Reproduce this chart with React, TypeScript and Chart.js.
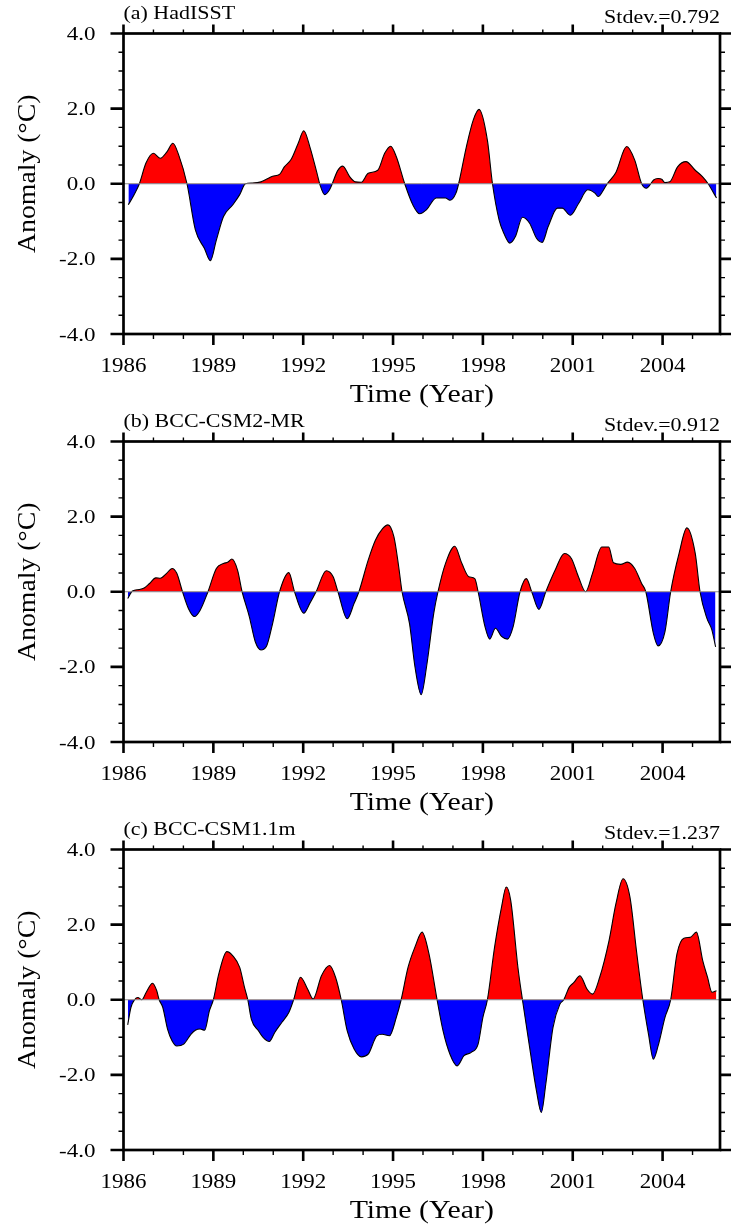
import React, { useEffect, useRef } from 'react';
import { Chart, registerables } from 'chart.js';

Chart.register(...registerables);

// ---------- data ----------
const X_MIN = 1986;
const X_MAX = 1986 + 239 / 12;
const yearTicks = [1986, 1987, 1988, 1989, 1990, 1991, 1992, 1993, 1994, 1995, 1996, 1997, 1998, 1999, 2000, 2001, 2002, 2003, 2004, 2005];
const majorYears = [1986, 1989, 1992, 1995, 1998, 2001, 2004];
const yMajor = [-4, -2, 0, 2, 4];
const yMajorLabels = ['-4.0', '-2.0', '0.0', '2.0', '4.0'];
const yMinor = [-3.5, -3, -2.5, -1.5, -1, -0.5, 0.5, 1, 1.5, 2.5, 3, 3.5];

const panelTitles = ['(a) HadISST', '(b) BCC-CSM2-MR', '(c) BCC-CSM1.1m'];
const panelStdev = ['Stdev.=0.792', 'Stdev.=0.912', 'Stdev.=1.237'];

const hadTime = [1986.16, 1986.35, 1986.53, 1986.75, 1987.0, 1987.23, 1987.45, 1987.65, 1987.85, 1988.12, 1988.4, 1988.7, 1988.9, 1989.1, 1989.34, 1989.65, 1989.88, 1990.07, 1990.3, 1990.59, 1990.82, 1990.98, 1991.21, 1991.37, 1991.6, 1991.83, 1992.02, 1992.22, 1992.46, 1992.55, 1992.72, 1992.88, 1992.97, 1993.15, 1993.32, 1993.55, 1993.74, 1993.94, 1994.17, 1994.49, 1994.72, 1994.92, 1995.11, 1995.39, 1995.66, 1995.89, 1996.12, 1996.44, 1996.75, 1996.9, 1997.1, 1997.19, 1997.45, 1997.68, 1997.87, 1998.15, 1998.32, 1998.54, 1998.7, 1998.9, 1999.09, 1999.32, 1999.56, 1999.79, 1999.98, 2000.18, 2000.49, 2000.65, 2000.92, 2001.2, 2001.5, 2001.74, 2001.85, 2002.0, 2002.15, 2002.44, 2002.8, 2003.07, 2003.3, 2003.46, 2003.56, 2003.7, 2003.85, 2003.97, 2004.08, 2004.24, 2004.5, 2004.78, 2005.09, 2005.33, 2005.52, 2005.8];
const hadValue = [-0.56, -0.3, 0, 0.55, 0.81, 0.68, 0.85, 1.08, 0.75, 0, -1.23, -1.72, -2.05, -1.5, -0.87, -0.56, -0.29, 0, 0.02, 0.05, 0.14, 0.2, 0.25, 0.45, 0.65, 1.07, 1.41, 0.99, 0.28, 0, -0.29, -0.16, 0, 0.35, 0.47, 0.19, 0.05, 0.04, 0.28, 0.36, 0.81, 1.0, 0.72, 0, -0.56, -0.8, -0.69, -0.38, -0.38, -0.44, -0.25, 0, 0.99, 1.7, 1.98, 1.16, 0, -0.96, -1.32, -1.58, -1.4, -0.89, -1.05, -1.45, -1.56, -1.14, -0.65, -0.65, -0.84, -0.52, -0.16, -0.25, -0.34, -0.2, 0, 0.3, 0.99, 0.63, 0, -0.12, -0.05, 0.1, 0.14, 0.12, 0.03, 0.05, 0.45, 0.59, 0.36, 0.19, 0, -0.38];

const csm2Time = [1986.14, 1986.3, 1986.53, 1986.69, 1986.87, 1987.08, 1987.23, 1987.44, 1987.62, 1987.78, 1987.97, 1988.17, 1988.37, 1988.56, 1988.82, 1989.1, 1989.34, 1989.49, 1989.62, 1989.81, 1989.96, 1990.2, 1990.4, 1990.59, 1990.77, 1990.98, 1991.21, 1991.52, 1991.71, 1992.02, 1992.22, 1992.43, 1992.77, 1993.0, 1993.16, 1993.47, 1993.7, 1993.86, 1994.17, 1994.41, 1994.65, 1994.83, 1995.03, 1995.19, 1995.3, 1995.55, 1995.73, 1995.94, 1996.12, 1996.36, 1996.5, 1996.75, 1997.06, 1997.3, 1997.53, 1997.73, 1997.84, 1998.07, 1998.23, 1998.42, 1998.62, 1998.82, 1999.01, 1999.24, 1999.45, 1999.63, 1999.87, 2000.1, 2000.41, 2000.72, 2000.96, 2001.19, 2001.43, 2001.66, 2001.97, 2002.2, 2002.36, 2002.6, 2002.83, 2003.07, 2003.3, 2003.44, 2003.69, 2003.85, 2004.08, 2004.27, 2004.55, 2004.81, 2005.09, 2005.25, 2005.48, 2005.64, 2005.77];
const csm2Value = [-0.18, 0.02, 0.06, 0.1, 0.22, 0.37, 0.36, 0.49, 0.62, 0.49, 0, -0.45, -0.66, -0.49, 0, 0.62, 0.75, 0.79, 0.87, 0.57, 0, -0.66, -1.33, -1.55, -1.46, -0.84, 0, 0.51, 0, -0.57, -0.31, 0, 0.56, 0.4, 0, -0.72, -0.31, 0, 0.84, 1.37, 1.68, 1.78, 1.46, 0.66, 0, -0.85, -1.99, -2.74, -1.99, -0.57, 0, 0.75, 1.21, 0.75, 0.4, 0.35, 0, -0.93, -1.26, -0.97, -1.19, -1.26, -0.93, 0, 0.35, 0, -0.47, 0, 0.57, 1.02, 0.88, 0.4, 0.0, 0.49, 1.19, 1.19, 0.77, 0.73, 0.79, 0.62, 0.22, 0, -1.1, -1.44, -1.06, 0, 1.02, 1.7, 1.02, 0, -0.71, -1.0, -1.47];

const csm1Time = [1986.14, 1986.25, 1986.37, 1986.48, 1986.61, 1986.76, 1986.97, 1987.11, 1987.19, 1987.31, 1987.47, 1987.62, 1987.78, 1988.01, 1988.25, 1988.4, 1988.56, 1988.71, 1988.87, 1989.0, 1989.18, 1989.45, 1989.65, 1989.88, 1990.04, 1990.15, 1990.27, 1990.51, 1990.66, 1990.87, 1991.05, 1991.29, 1991.52, 1991.68, 1991.91, 1992.15, 1992.33, 1992.61, 1992.88, 1993.08, 1993.27, 1993.47, 1993.7, 1993.94, 1994.17, 1994.46, 1994.64, 1994.88, 1995.11, 1995.27, 1995.5, 1995.73, 1995.97, 1996.2, 1996.47, 1996.67, 1996.9, 1997.14, 1997.37, 1997.61, 1997.84, 1998.0, 1998.15, 1998.39, 1998.62, 1998.78, 1998.93, 1999.17, 1999.32, 1999.56, 1999.79, 1999.95, 2000.1, 2000.34, 2000.57, 2000.7, 2000.88, 2001.04, 2001.24, 2001.48, 2001.66, 2001.9, 2002.21, 2002.44, 2002.68, 2002.91, 2003.14, 2003.34, 2003.53, 2003.69, 2003.85, 2004.08, 2004.27, 2004.48, 2004.71, 2004.92, 2005.13, 2005.34, 2005.5, 2005.65, 2005.8];
const csm1Value = [-0.67, -0.2, 0, 0.06, 0.0, 0.2, 0.44, 0.24, 0, -0.2, -0.78, -1.09, -1.23, -1.18, -0.92, -0.81, -0.78, -0.81, -0.29, 0, 0.68, 1.28, 1.17, 0.86, 0.33, 0, -0.52, -0.83, -1.0, -1.11, -0.87, -0.6, -0.34, 0, 0.6, 0.28, 0.02, 0.64, 0.91, 0.6, 0, -0.83, -1.31, -1.52, -1.45, -0.96, -0.92, -0.96, -0.47, 0, 0.86, 1.4, 1.8, 1.22, 0, -0.83, -1.45, -1.76, -1.49, -1.4, -1.18, -0.47, 0, 1.4, 2.46, 3.0, 2.64, 0.86, 0, -1.27, -2.43, -3.0, -2.25, -0.74, -0.12, 0, 0.33, 0.46, 0.64, 0.28, 0.15, 0.6, 1.57, 2.55, 3.22, 2.73, 1.22, 0, -0.92, -1.58, -1.23, -0.47, 0, 1.22, 1.64, 1.66, 1.8, 1.04, 0.6, 0.2, 0.24];

const panelTimes = [hadTime, csm2Time, csm1Time];
const panelValues = [hadValue, csm2Value, csm1Value];

// ---------- drawing helpers ----------
const FONT = '"Liberation Serif", "Times New Roman", serif';

function drawText(
  ctx: CanvasRenderingContext2D,
  s: string,
  x: number,
  y: number,
  size: number,
  stretch: number,
  align: CanvasTextAlign,
  rotate = false
) {
  ctx.save();
  ctx.font = `${size}px ${FONT}`;
  ctx.fillStyle = '#000';
  ctx.textBaseline = 'alphabetic';
  ctx.textAlign = align;
  ctx.translate(x, y);
  if (rotate) ctx.rotate(-Math.PI / 2);
  ctx.scale(stretch, 1);
  ctx.fillText(s, 0, 0);
  ctx.restore();
}

function makeFramePlugin(title: string, stdev: string) {
  return {
    id: 'nclFrame',
    afterDatasetsDraw(chart: any) {
      const ctx: CanvasRenderingContext2D = chart.ctx;
      const { left, right, top, bottom } = chart.chartArea;
      const xs = chart.scales.x;
      const ys = chart.scales.y;
      ctx.save();
      // zero reference line
      const y0 = ys.getPixelForValue(0);
      ctx.strokeStyle = '#8c8c8c';
      ctx.lineWidth = 1;
      ctx.beginPath();
      ctx.moveTo(left, y0);
      ctx.lineTo(right, y0);
      ctx.stroke();

      ctx.strokeStyle = '#000';
      ctx.lineCap = 'butt';
      // x ticks
      yearTicks.forEach((yr) => {
        const px = xs.getPixelForValue(yr);
        const major = majorYears.includes(yr);
        ctx.lineWidth = major ? 2.6 : 1.4;
        ctx.beginPath();
        ctx.moveTo(px, bottom);
        ctx.lineTo(px, bottom + (major ? 11 : 5));
        ctx.moveTo(px, top);
        ctx.lineTo(px, top - (major ? 9 : 4));
        ctx.stroke();
      });
      // y ticks
      yMajor.forEach((v) => {
        const py = ys.getPixelForValue(v);
        ctx.lineWidth = 2.6;
        ctx.beginPath();
        ctx.moveTo(left - 13, py);
        ctx.lineTo(left, py);
        ctx.moveTo(right, py);
        ctx.lineTo(right + 11, py);
        ctx.stroke();
      });
      yMinor.forEach((v) => {
        const py = ys.getPixelForValue(v);
        ctx.lineWidth = 1.4;
        ctx.beginPath();
        ctx.moveTo(left - 5, py);
        ctx.lineTo(left, py);
        ctx.moveTo(right, py);
        ctx.lineTo(right + 5, py);
        ctx.stroke();
      });
      // frame
      ctx.lineWidth = 2.7;
      ctx.strokeRect(left, top, right - left, bottom - top);
      ctx.restore();

      // labels
      yMajor.forEach((v, i) => {
        const py = ys.getPixelForValue(v);
        drawText(ctx, yMajorLabels[i], left - 28, py + 6.5, 19.5, 1.18, 'right');
      });
      majorYears.forEach((yr) => {
        const px = xs.getPixelForValue(yr);
        drawText(ctx, String(yr), px, bottom + 37.5, 20.5, 1.12, 'center');
      });
      drawText(ctx, 'Time (Year)', (left + right) / 2, bottom + 68, 25.5, 1.17, 'center');
      drawText(ctx, 'Anomaly (°C)', 35, (top + bottom) / 2 - 10, 25.5, 1.09, 'center', true);
      drawText(ctx, title, left, top - 14.5, 18, 1.22, 'left');
      drawText(ctx, stdev, right, top - 11, 18, 1.22, 'right');
    },
  };
}

function Panel({ index }: { index: number }) {
  const ref = useRef<HTMLCanvasElement | null>(null);
  useEffect(() => {
    if (!ref.current) return;
    const times = panelTimes[index];
    const values = panelValues[index];
    const data = times.map((t, i) => ({ x: t, y: values[i] }));
    const chart = new Chart(ref.current, {
      type: 'line',
      data: {
        datasets: [
          {
            data,
            borderColor: '#000',
            borderWidth: 1.1,
            pointRadius: 0,
            cubicInterpolationMode: 'monotone',
            fill: { target: { value: 0 }, above: '#ff0000', below: '#0000ff' },
          } as any,
        ],
      },
      options: {
        responsive: false,
        animation: false,
        devicePixelRatio: 1,
        layout: { padding: { left: 123.5, right: 11, top: 33.5, bottom: 74 } },
        plugins: { legend: { display: false }, tooltip: { enabled: false }, title: { display: false } },
        events: [],
        scales: {
          x: { type: 'linear', min: X_MIN, max: X_MAX, display: false },
          y: { type: 'linear', min: -4, max: 4, display: false },
        },
      },
      plugins: [makeFramePlugin(panelTitles[index], panelStdev[index])],
    });
    return () => chart.destroy();
  }, [index]);
  return (
    <canvas
      ref={ref}
      width={731}
      height={408}
      style={{ position: 'absolute', left: 0, top: index * 408, width: 731, height: 408 }}
    />
  );
}

export default function App() {
  return (
    <div style={{ position: 'fixed', left: 0, top: 0, width: 731, height: 1226, background: '#fff' }}>
      <Panel index={0} />
      <Panel index={1} />
      <Panel index={2} />
    </div>
  );
}
